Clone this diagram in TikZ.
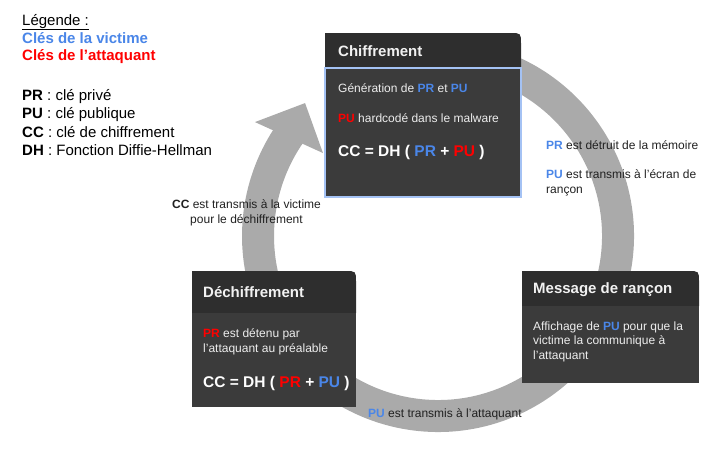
\documentclass[tikz,border=0pt]{standalone}
\usepackage{fontspec}
\setmainfont{Liberation Sans}
\usepackage{tikz}
\definecolor{cleVictime}{HTML}{4A86E8}
\definecolor{cleAttaquant}{HTML}{FF0000}
\definecolor{fondTitre}{HTML}{2E2E2E}
\definecolor{fondCorps}{HTML}{3B3B3B}
\definecolor{anneau}{HTML}{AAAAAA}
\definecolor{cadreBleu}{HTML}{A4C2F4}
\newcommand{\vic}[1]{\textcolor{cleVictime}{\textbf{#1}}}
\newcommand{\att}[1]{\textcolor{cleAttaquant}{\textbf{#1}}}

\begin{document}
\begin{tikzpicture}[x=1pt,y=-1pt,
	legende/.style={anchor=base west,inner sep=0pt,font=\fontsize{15}{18}\selectfont},
	texte/.style={anchor=base west,inner sep=0pt,align=left,text=black!87,font=\fontsize{12}{14.5}\selectfont},
	corps/.style={texte,text=white!93!black},
	titre/.style={anchor=base west,inner sep=0pt,text=white!95!black,font=\fontsize{15}{18}\selectfont\bfseries},
	formule/.style={anchor=base west,inner sep=0pt,text=white,font=\fontsize{15.5}{20}\selectfont\bfseries}]
		\useasboundingbox (0,0) rectangle (720,463);
		% anneau du cycle
		\coordinate (centre) at (438,236);
		\draw[anneau,line width=32pt] ([shift={(-80:180)}]centre) arc[start angle=-80,end angle=215,radius=180];
		\fill[anneau] ([shift={(211.9:215.6)}]centre) -- ([shift={(225:188)}]centre) -- ([shift={(215.8:141.8)}]centre) -- cycle;
		% boites
		\fill[fondTitre] (325,68) -- (325,33) -- (510,33) .. controls (521,33) .. (521,44) -- (521,68) -- cycle;
		\draw[fill=fondCorps,draw=cadreBleu,line width=1.5pt] (325,68) rectangle (521,197);
		\fill[fondTitre] (522,306) -- (522,271) -- (688,271) .. controls (699,271) .. (699,282) -- (699,306) -- cycle;
		\fill[fondCorps] (522,306) rectangle (699,383);
		\fill[fondTitre] (192,313) -- (192,271) -- (345,271) .. controls (356,271) .. (356,282) -- (356,313) -- cycle;
		\fill[fondCorps] (192,313) rectangle (356,407);
		% legende
		\node[legende] (legTitre) at (22,25) {\underline{Légende :}};
		\node[legende,text=cleVictime] (legVic) at (22,43) {\bfseries Clés de la victime};
		\node[legende,text=cleAttaquant] (legAtt) at (22,60) {\bfseries Clés de l’attaquant};
		\node[legende] (legPR) at (22,100) {\textbf{PR} : clé privé};
		\node[legende] (legPU) at (22,118) {\textbf{PU} : clé publique};
		\node[legende] (legCC) at (22,137) {\textbf{CC} : clé de chiffrement};
		\node[legende] (legDH) at (22,155) {\textbf{DH} : Fonction Diffie-Hellman};
		% chiffrement
		\node[titre] (tChiff) at (338,56) {Chiffrement};
		\node[corps] (cGen) at (338,92) {Génération de \vic{PR} et \vic{PU}};
		\node[corps] (cHard) at (338,122) {\att{PU} hardcodé dans le malware};
		\node[formule] (cForm) at (338,156) {CC = DH ( \vic{PR} + \att{PU} )};
		% message de rancon
		\node[titre] (tMsg) at (533,293) {Message de rançon};
		\node[corps] (cAff) at (533,359) {Affichage de \vic{PU} pour que la\\victime la communique à\\l’attaquant};
		% dechiffrement
		\node[titre] (tDech) at (203,297) {Déchiffrement};
		\node[corps] (cDet) at (203,352) {\att{PR} est détenu par\\l’attaquant au préalable};
		\node[formule] (cForm2) at (203,387) {CC = DH ( \att{PR} + \vic{PU} )};
		% etapes du cycle
		\node[texte] (eDetruit) at (546,149) {\vic{PR} est détruit de la mémoire};
		\node[texte] (eEcran) at (546,193) {\vic{PU} est transmis à l’écran de\\rançon};
		\node[texte] (eAtt) at (368,417) {\vic{PU} est transmis à l'attaquant};
		\node[texte,align=center,anchor=base] (eVic) at (246.5,223) {\textbf{CC} est transmis à la victime\\pour le déchiffrement};
\end{tikzpicture}
\end{document}
